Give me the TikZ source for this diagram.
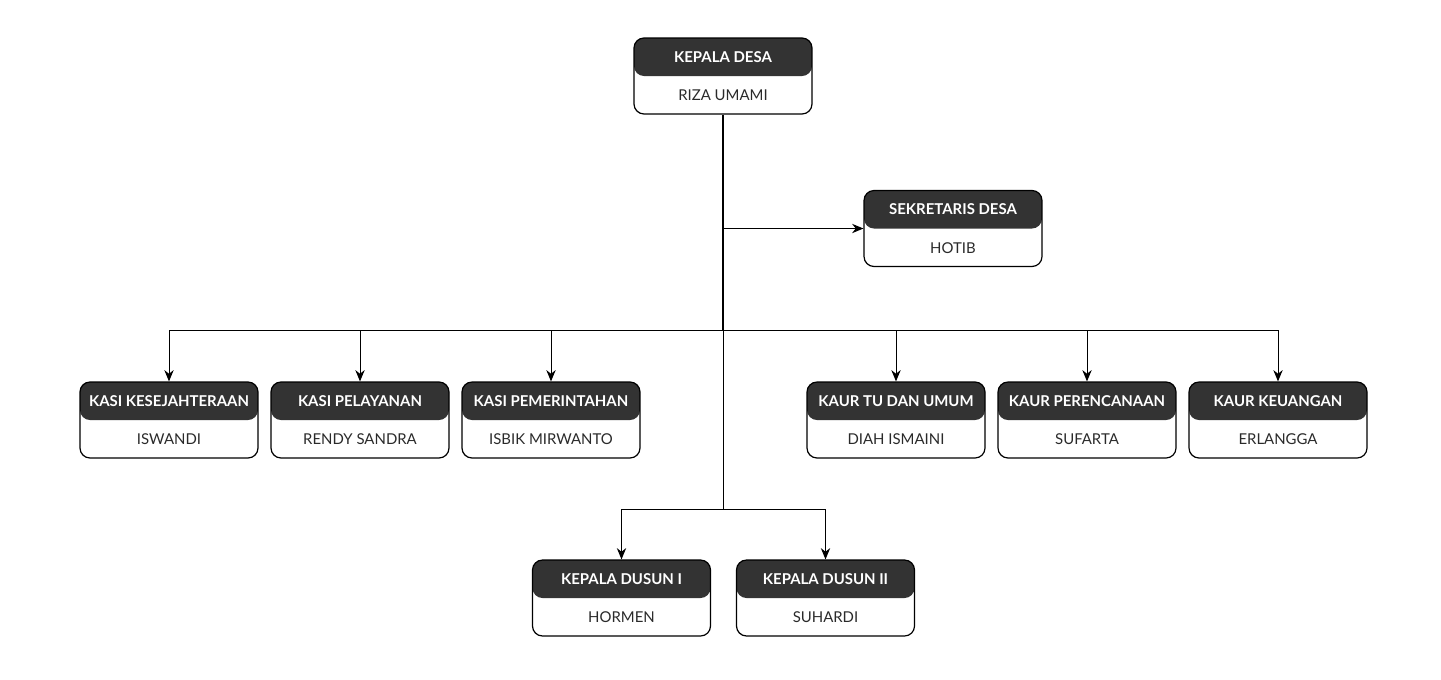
\documentclass[tikz,border=0pt]{standalone}
\usepackage{fontspec}
\setmainfont{Lato}
\usetikzlibrary{arrows.meta,calc}
\definecolor{hdr}{HTML}{333333}
\definecolor{bodytxt}{HTML}{2A2A2A}
\tikzset{
  orgbox/.style={draw=black, line width=0.9pt, rounded corners=7.5pt,
    minimum width=133.5pt, minimum height=57pt, inner sep=0pt,
    path picture={\fill[hdr] (path picture bounding box.north west) rectangle (path picture bounding box.east);}},
  titletext/.style={text=white, font=\bfseries\fontsize{11.2}{13}\selectfont, inner sep=0pt},
  nametext/.style={text=bodytxt, font=\fontsize{11.2}{13}\selectfont, inner sep=0pt},
  conn/.style={draw=black, line width=0.75pt},
  trunk/.style={draw=black, line width=1.5pt},
  arr/.style={conn, -{Stealth[length=8.5pt,width=7pt]}},
}
\newcommand{\orgunit}[5]{%
  \node[orgbox] (#1) at (#2) {};
  \node[titletext] (#1-t) at ($(#1.north)!0.25!(#1.south)$) {#3};
  \node[nametext] (#1-n) at ($(#1.north)!0.75!(#1.south)$) {#4};
}
\begin{document}
\begin{tikzpicture}[x=0.75pt,y=-0.75pt]
\useasboundingbox[fill=white] (0,0) rectangle (1441,679);
\orgunit{kd}{723,76}{KEPALA DESA}{RIZA UMAMI}{}
\orgunit{sd}{953,228.5}{SEKRETARIS DESA}{HOTIB}{}
\orgunit{kk}{169,420}{KASI KESEJAHTERAAN}{ISWANDI}{}
\orgunit{kp}{360,420}{KASI PELAYANAN}{RENDY SANDRA}{}
\orgunit{km}{551,420}{KASI PEMERINTAHAN}{ISBIK MIRWANTO}{}
\orgunit{kt}{896,420}{KAUR TU DAN UMUM}{DIAH ISMAINI}{}
\orgunit{kr}{1087,420}{KAUR PERENCANAAN}{SUFARTA}{}
\orgunit{ku}{1278,420}{KAUR KEUANGAN}{ERLANGGA}{}
\orgunit{da}{621.5,598}{KEPALA DUSUN I}{HORMEN}{}
\orgunit{db}{825.5,598}{KEPALA DUSUN II}{SUHARDI}{}
\coordinate (bus) at (723,330);
\coordinate (j2) at (723,509);
% trunk
\draw[trunk] (kd.south) -- (bus);
\draw[conn] (bus) -- (j2);
% sekretaris
\draw[arr] (kd.south |- sd.west) -- (sd.west);
% bus
\draw[conn] (kk.north |- bus) -- (ku.north |- bus);
\foreach \n in {kk,kp,km,kt,kr,ku}{
  \draw[arr] (\n.north |- bus) -- (\n.north);
}
% dusun
\draw[conn] (da.north |- j2) -- (db.north |- j2);
\draw[arr] (da.north |- j2) -- (da.north);
\draw[arr] (db.north |- j2) -- (db.north);
\end{tikzpicture}
\end{document}
